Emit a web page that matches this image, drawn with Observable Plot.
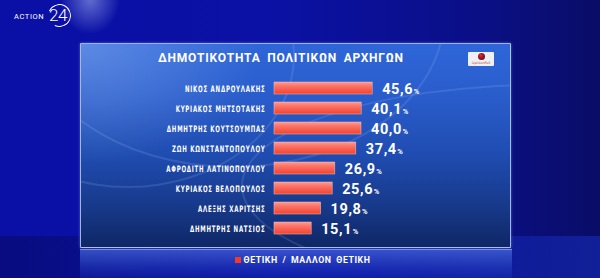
<!DOCTYPE html>
<html><head><meta charset="utf-8">
<script src="https://cdn.jsdelivr.net/npm/d3@7"></script>
<script src="https://cdn.jsdelivr.net/npm/@observablehq/plot@0.6"></script>
<style>
html,body{margin:0;padding:0;width:600px;height:278px;overflow:hidden;background:#0a0f9c;}
#stage{position:relative;width:600px;height:278px;overflow:hidden;
  background:
    radial-gradient(ellipse 30px 34px at 90px 0px, rgba(200,220,255,0.45), rgba(200,220,255,0) 100%),
    linear-gradient(to right, #0a0fa6 0%, #0b11a4 45%, #0a0f86 80%, #090d66 100%);}
#floor{position:absolute;left:0;top:236px;width:600px;height:42px;
  background:linear-gradient(to right, rgba(5,8,80,0.45), rgba(15,30,170,0.25) 55%, rgba(25,50,200,0.5));}
#panel{position:absolute;left:80px;top:43px;width:429px;height:203px;overflow:hidden;
  border:1.5px solid rgba(185,205,255,0.85);border-radius:1px;
  background:
    radial-gradient(ellipse 180px 120px at 0px 0px, rgba(190,215,255,0.32), rgba(190,215,255,0) 100%),
    linear-gradient(180deg, #2e66d8 0%, #2a5dcc 25%, #1f4cb0 55%, #17398a 80%, #0f2766 100%);
  box-shadow:0 0 3px rgba(150,180,255,0.5);}
.arc{position:absolute;border-radius:50%;border:2px solid rgba(170,200,255,0.16);}
#refl{position:absolute;left:80px;top:249px;width:432px;height:29px;
  background:linear-gradient(180deg, rgba(90,130,240,0.55) 0%, rgba(50,90,220,0.35) 60%, rgba(30,60,200,0.2) 100%);
  border-top:1px solid rgba(190,210,255,0.6);}
#logo{position:absolute;left:14px;top:3px;height:26px;color:#fff;font-family:Roboto,"DejaVu Sans",sans-serif;}
#logo .a{position:absolute;left:0;top:9px;font-size:7.5px;letter-spacing:0.6px;font-weight:400;white-space:nowrap;}
#logo .c{position:absolute;left:34px;top:1px;width:21px;height:21px;border:1.5px solid #fff;border-radius:50%;
  border-left-color:transparent;transform:rotate(-20deg);}
#logo .n{position:absolute;left:35px;top:2px;font-size:17px;font-weight:300;letter-spacing:-0.5px;}
#title{position:absolute;left:158px;top:51px;color:#fff;font-family:Roboto,"DejaVu Sans",sans-serif;
  font-weight:700;font-size:12px;line-height:14px;letter-spacing:0.75px;word-spacing:3px;white-space:nowrap;}
#op{position:absolute;left:468px;top:52px;width:26px;height:14px;background:#eef0f4;border-radius:1px;}
#op .dot{position:absolute;left:10px;top:1px;width:7px;height:7px;border-radius:50%;
  background:radial-gradient(circle at 40% 35%, #e03030 0%, #a01020 45%, #1a1a50 100%);}
#op .t{position:absolute;left:1px;top:9px;width:24px;text-align:center;font-size:3.3px;color:#c03030;font-family:"DejaVu Sans",sans-serif;}
#chart{position:absolute;left:0;top:0;}
#legend{position:absolute;left:0;top:254px;width:600px;text-align:center;padding-left:5px;box-sizing:border-box;
  color:#fff;font-family:Roboto,"DejaVu Sans",sans-serif;font-weight:700;font-size:8.8px;letter-spacing:0.55px;word-spacing:2px;line-height:12px;}
#legend .sw{display:inline-block;width:6px;height:6px;background:#f23a2a;margin-right:3px;vertical-align:0px;}
</style></head><body>
<div id="stage">
  <div id="floor"></div>
  <div id="panel">
    <div class="arc" style="left:-60px;top:-180px;width:420px;height:300px;"></div>
    <div class="arc" style="left:-120px;top:-120px;width:330px;height:260px;"></div>
    <div class="arc" style="left:160px;top:40px;width:600px;height:200px;"></div>
  </div>
  <div id="refl"></div>
  <div id="logo"><span class="a">ACTION</span><span class="c"></span><span class="n">24</span></div>
  <div id="title"></div>
  <div id="op"><div class="dot"></div><div class="t">OpinionPoll</div></div>
  <div id="chart"></div>
  <div id="legend"><span class="sw"></span><span id="legendText"></span></div>
</div>
<script>
const chartTitle = "ΔΗΜΟΤΙΚΟΤΗΤΑ ΠΟΛΙΤΙΚΩΝ ΑΡΧΗΓΩΝ";
const seriesName = "ΘΕΤΙΚΗ / ΜΑΛΛΟΝ ΘΕΤΙΚΗ";
const leaders = [
  "ΝΙΚΟΣ ΑΝΔΡΟΥΛΑΚΗΣ",
  "ΚΥΡΙΑΚΟΣ ΜΗΤΣΟΤΑΚΗΣ",
  "ΔΗΜΗΤΡΗΣ ΚΟΥΤΣΟΥΜΠΑΣ",
  "ΖΩΗ ΚΩΝΣΤΑΝΤΟΠΟΥΛΟΥ",
  "ΑΦΡΟΔΙΤΗ ΛΑΤΙΝΟΠΟΥΛΟΥ",
  "ΚΥΡΙΑΚΟΣ ΒΕΛΟΠΟΥΛΟΣ",
  "ΑΛΕΞΗΣ ΧΑΡΙΤΣΗΣ",
  "ΔΗΜΗΤΡΗΣ ΝΑΤΣΙΟΣ"
];
const positive = [45.6, 40.1, 40.0, 37.4, 26.9, 25.6, 19.8, 15.1];

document.getElementById("title").textContent = chartTitle;
document.getElementById("legendText").textContent = seriesName;

const rows = leaders.map((name, i) => ({name, value: positive[i]}));
const base = -3.5; // bars start slightly left of zero, as in the broadcast graphic

const svg = Plot.plot({
  width: 600, height: 278,
  marginLeft: 274, marginRight: 119, marginTop: 72.6, marginBottom: 35.2,
  x: {domain: [base, 100], axis: null},
  y: {domain: leaders, axis: null, padding: 0.42},
  style: {background: "transparent", overflow: "visible"},
  marks: [
    Plot.barX(rows, {x1: base, x2: "value", y: "name", fill: "url(#barGrad)",
      stroke: "#ffc4bc", strokeWidth: 0.6, strokeOpacity: 0.8}),
    Plot.text(rows, {x: base, y: "name", text: "name", textAnchor: "end", dx: -9, dy: 0.5,
      fill: "white", fontSize: 8.8, fontWeight: 700,
      fontFamily: "'DejaVu Sans Condensed','DejaVu Sans',sans-serif"}),
    Plot.text(rows, {x: "value", y: "name", text: d => d.value.toFixed(1).replace(".", ","),
      textAnchor: "start", dx: 9.5, dy: 1, fill: "white", fontSize: 14.5, fontWeight: 700,
      fontFamily: "Roboto,'DejaVu Sans',sans-serif"})
  ]
});

const s = d3.select(svg);
const defs = s.insert("defs", ":first-child");
const g = defs.append("linearGradient").attr("id", "barGrad").attr("x1", 0).attr("y1", 0).attr("x2", 0).attr("y2", 1);
g.append("stop").attr("offset", "0%").attr("stop-color", "#ff9a90");
g.append("stop").attr("offset", "35%").attr("stop-color", "#fc7266");
g.append("stop").attr("offset", "100%").attr("stop-color", "#f0432f");

const textGroups = s.selectAll("g[aria-label='text']").nodes();
d3.select(textGroups[0]).style("letter-spacing", "1.1px").selectAll("text").each(function() {
  const t = d3.select(this);
  t.attr("transform", (t.attr("transform") || "") + " scale(0.69,1)");
});
d3.select(textGroups[1]).style("letter-spacing", "0.6px").selectAll("text").each(function() {
  const t = d3.select(this);
  const num = t.text();
  t.text(num);
  t.append("tspan").attr("font-size", 7.5).attr("dx", 0.5).text("%");
});

document.getElementById("chart").appendChild(svg);
</script>
</body></html>
